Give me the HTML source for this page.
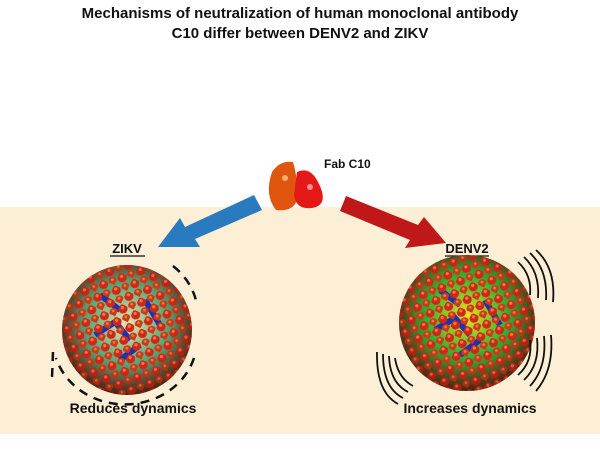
<!DOCTYPE html>
<html><head><style>
body{margin:0;width:600px;height:449px;background:#fff;overflow:hidden;font-family:"Liberation Sans",Arial,sans-serif;}
</style></head><body>
<svg width="600" height="449" viewBox="0 0 600 449" xmlns="http://www.w3.org/2000/svg">
<defs>
<pattern id="dots" width="14" height="14" patternUnits="userSpaceOnUse" patternTransform="rotate(25)">
<circle cx="4" cy="4" r="4.6" fill="#d02818"/>
<circle cx="11" cy="11" r="4.2" fill="#c83a18"/>
<circle cx="3" cy="3" r="1.6" fill="#f07a40"/>
<circle cx="10" cy="10" r="1.4" fill="#f07a40"/>
</pattern>
<radialGradient id="shadeZ" cx="0.5" cy="0.45" r="0.55">
<stop offset="0" stop-color="#ece4b0"/><stop offset="0.55" stop-color="#5aa878"/><stop offset="1" stop-color="#6a2a18"/>
</radialGradient>
<radialGradient id="shadeD" cx="0.5" cy="0.45" r="0.55">
<stop offset="0" stop-color="#f0e020"/><stop offset="0.55" stop-color="#30b030"/><stop offset="1" stop-color="#6a2a18"/>
</radialGradient>
<radialGradient id="dark" cx="0.5" cy="0.45" r="0.55">
<stop offset="0.65" stop-color="#000" stop-opacity="0"/><stop offset="1" stop-color="#000" stop-opacity="0.25"/>
</radialGradient>
</defs>
<rect x="0" y="207" width="600" height="227" fill="#fcefd6"/>
<text x="300" y="18" font-size="15" font-weight="bold" text-anchor="middle" fill="#111">Mechanisms of neutralization of human monoclonal antibody</text>
<text x="300" y="38" font-size="15" font-weight="bold" text-anchor="middle" fill="#111">C10 differ between DENV2 and ZIKV</text>
<text x="324" y="168" font-size="12" font-weight="bold" fill="#111">Fab C10</text>
<path d="M272 172 Q280 160 293 162 Q298 178 297 200 Q293 212 276 210 Q264 195 272 172Z" fill="#e0560e"/>
<path d="M297 172 Q310 166 318 182 Q330 205 312 208 Q296 210 294 195Z" fill="#e51818"/>
<circle cx="285" cy="178" r="3" fill="#f7b070"/>
<circle cx="310" cy="187" r="3" fill="#f89090"/>
<polygon points="254,195 262,210 195,239 200,247 158,247 180,218 185,227" fill="#2a7ac0"/>
<polygon points="346,196 340,211 410,240 405,248 446,243 424,217 418,225" fill="#c01818"/>
<text x="127" y="253" font-size="13" font-weight="bold" text-anchor="middle" fill="#111">ZIKV</text>
<line x1="110" y1="256" x2="145" y2="256" stroke="#111" stroke-width="1.2"/>
<text x="467" y="253" font-size="13" font-weight="bold" text-anchor="middle" fill="#111">DENV2</text>
<line x1="445" y1="256" x2="489" y2="256" stroke="#111" stroke-width="1.2"/>
<circle cx="127" cy="330" r="65" fill="url(#shadeZ)"/>
<path d="M95 335 L115 322 L130 340 M145 300 L160 325 M100 295 L120 310 M120 360 L140 345" stroke="#2030b0" stroke-width="6" fill="none"/>
<circle cx="127" cy="330" r="65" fill="url(#dots)"/>
<circle cx="127" cy="330" r="65" fill="url(#dark)"/>
<path d="M173 266 A72 65 0 0 1 197 305" stroke="#111" stroke-width="2.5" fill="none" stroke-dasharray="9 7"/>
<path d="M194 358 A72 65 0 0 1 56 358" stroke="#111" stroke-width="2.5" fill="none" stroke-dasharray="9 7"/>
<path d="M53 352 L52 378" stroke="#111" stroke-width="2.5" stroke-dasharray="9 7"/>
<circle cx="467" cy="323" r="68" fill="url(#shadeD)"/>
<path d="M435 330 L455 318 L470 335 M485 300 L500 325 M440 290 L460 305 M460 355 L480 340" stroke="#2030b0" stroke-width="6" fill="none"/>
<circle cx="467" cy="323" r="68" fill="url(#dots)"/>
<circle cx="467" cy="323" r="68" fill="url(#dark)"/>
<g stroke="#111" stroke-width="1.8" fill="none">
<path d="M518 262 Q532 275 530 295"/><path d="M524 257 Q540 272 538 298"/><path d="M530 253 Q548 270 546 300"/><path d="M536 250 Q556 268 553 302"/>
<path d="M530 340 Q533 362 518 375"/><path d="M537 338 Q540 365 524 380"/><path d="M544 336 Q547 368 530 386"/><path d="M551 335 Q554 370 536 391"/>
<path d="M395 358 Q398 378 413 386"/><path d="M389 356 Q390 383 408 392"/><path d="M383 354 Q383 388 403 398"/><path d="M377 352 Q376 392 398 404"/>
</g>
<text x="133" y="413" font-size="14" font-weight="bold" text-anchor="middle" fill="#111">Reduces dynamics</text>
<text x="470" y="413" font-size="14" font-weight="bold" text-anchor="middle" fill="#111">Increases dynamics</text>
</svg>
</body></html>
